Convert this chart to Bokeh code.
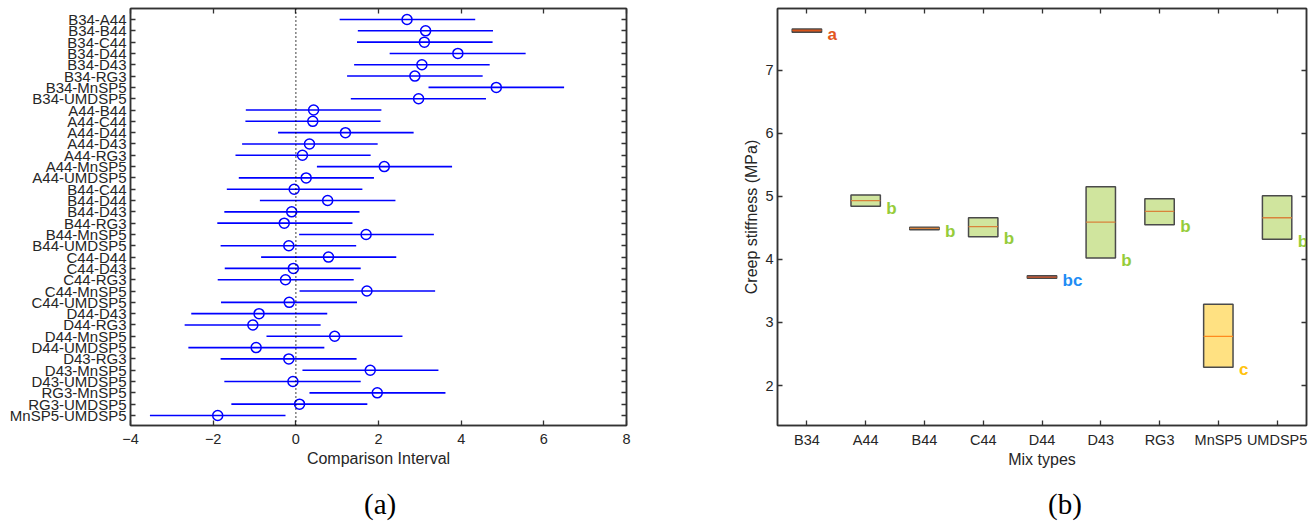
from bokeh.plotting import figure
from bokeh.models import Range1d, FixedTicker, LinearAxis, Span, Div, ColumnDataSource
from bokeh.layouts import row, column
from bokeh.core.properties import value
from bokeh.embed import file_html
from bokeh.resources import INLINE
import numpy as np

# ---------------- data: panel (a) multiple comparison ----------------
comparisons = ["B34-A44", "B34-B44", "B34-C44", "B34-D44", "B34-D43", "B34-RG3", "B34-MnSP5", "B34-UMDSP5",
               "A44-B44", "A44-C44", "A44-D44", "A44-D43", "A44-RG3", "A44-MnSP5", "A44-UMDSP5",
               "B44-C44", "B44-D44", "B44-D43", "B44-RG3", "B44-MnSP5", "B44-UMDSP5",
               "C44-D44", "C44-D43", "C44-RG3", "C44-MnSP5", "C44-UMDSP5",
               "D44-D43", "D44-RG3", "D44-MnSP5", "D44-UMDSP5",
               "D43-RG3", "D43-MnSP5", "D43-UMDSP5",
               "RG3-MnSP5", "RG3-UMDSP5", "MnSP5-UMDSP5"]
estimate = [2.69, 3.14, 3.11, 3.92, 3.05, 2.88, 4.85, 2.97,
            0.43, 0.41, 1.20, 0.33, 0.16, 2.14, 0.25,
            -0.04, 0.77, -0.10, -0.28, 1.70, -0.17,
            0.79, -0.06, -0.25, 1.72, -0.16,
            -0.89, -1.04, 0.94, -0.96,
            -0.17, 1.80, -0.07,
            1.97, 0.09, -1.89]
lower = [1.06, 1.50, 1.48, 2.27, 1.41, 1.24, 3.21, 1.33,
         -1.21, -1.22, -0.43, -1.30, -1.46, 0.51, -1.38,
         -1.67, -0.87, -1.73, -1.90, 0.08, -1.82,
         -0.84, -1.72, -1.89, 0.09, -1.81,
         -2.53, -2.69, -0.71, -2.60,
         -1.82, 0.16, -1.73,
         0.33, -1.56, -3.53]
upper = [4.34, 4.77, 4.76, 5.56, 4.69, 4.52, 6.49, 4.60,
         2.07, 2.05, 2.85, 1.98, 1.81, 3.78, 1.89,
         1.61, 2.41, 1.54, 1.37, 3.34, 1.46,
         2.43, 1.57, 1.40, 3.37, 1.48,
         0.76, 0.60, 2.58, 0.69,
         1.47, 3.45, 1.57,
         3.62, 1.73, -0.25]
x_ticks_a = [-4, -2, 0, 2, 4, 6, 8]

# ---------------- data: panel (b) creep stiffness boxes ----------------
mixes = ["B34", "A44", "B44", "C44", "D44", "D43", "RG3", "MnSP5", "UMDSP5"]
q1 = [7.60, 4.84, 4.47, 4.36, 3.70, 4.02, 4.55, 2.29, 4.32]
median = [7.63, 4.93, 4.49, 4.52, 3.72, 4.59, 4.76, 2.78, 4.66]
q3 = [7.65, 5.02, 4.51, 4.66, 3.74, 5.15, 4.96, 3.29, 5.01]
groups = ["a", "b", "b", "b", "bc", "b", "b", "c", "b"]
y_ticks_b = [2, 3, 4, 5, 6, 7]

# ---------------- styles ----------------
FONT = "Liberation Sans"
AX = "#333333"
TXT = "#262626"
box_fill = ["#D95319", "#D0E59E", "#D0E59E", "#D0E59E", "#5D6A9E", "#D0E59E", "#D0E59E", "#FFE182", "#D0E59E"]
med_color = ["#D95319", "#D9823B", "#D9823B", "#D9823B", "#D95319", "#D9823B", "#D9823B", "#FF8A1E", "#D9823B"]
letter_color = {"a": "#E2571E", "b": "#96CC3A", "bc": "#1E8CF5", "c": "#FFC20E"}


def style_axis(ax, label_size="14.5px", labels=True):
    ax.axis_line_color = AX
    ax.axis_line_width = 1.5
    ax.major_tick_line_color = AX
    ax.major_tick_line_width = 1.3
    ax.major_tick_in = 5
    ax.major_tick_out = 0
    ax.minor_tick_line_color = None
    ax.major_label_text_font = FONT
    if labels:
        ax.major_label_text_font_size = label_size
        ax.major_label_text_color = TXT
    else:
        # mirrored box axis: ticks only, no tick labels drawn
        ax.major_label_text_font_size = "1px"
        ax.major_label_text_color = None
        ax.major_label_standoff = 0
    ax.axis_label_text_font = FONT
    ax.axis_label_text_font_size = "16px"
    ax.axis_label_text_font_style = "normal"
    ax.axis_label_text_color = TXT


def panel_tag(text, width, pad_left):
    html = ('<div style="padding-left:%dpx; padding-top:10px; font-family:\'Liberation Serif\', serif; '
            'font-size:29px; line-height:29px; color:black; white-space:nowrap;">%s</div>' % (pad_left, text))
    return Div(text=html, width=width, height=43, margin=0)


FIG_H = 480

# ---------------- panel (a) ----------------
# rows are listed top to bottom: plotted at y = -row so the first comparison is on top
rows = list(range(1, len(comparisons) + 1))
ypos = [-r for r in rows]
p1 = figure(width=712, height=FIG_H, x_range=Range1d(-4, 8), y_range=Range1d(-36.885, -0.028),
            output_backend="svg", toolbar_location=None,
            min_border_left=130, min_border_right=86, min_border_top=8, min_border_bottom=55)
p1.grid.visible = False
p1.outline_line_color = AX
p1.outline_line_width = 1.5

src_a = ColumnDataSource(dict(y=ypos, est=estimate, lo=lower, hi=upper))
p1.segment(x0="lo", y0="y", x1="hi", y1="y", source=src_a, line_color="#0000FF", line_width=1.6)
zero = Span(location=0, dimension="height", line_color="black", line_dash="1 3", line_width=1.5)
p1.add_layout(zero)
p1.scatter(x="est", y="y", source=src_a, marker="circle", size=10,
           fill_color=None, line_color="#0000FF", line_width=1.5)

p1.xaxis.ticker = FixedTicker(ticks=x_ticks_a)
p1.yaxis.ticker = FixedTicker(ticks=ypos)
p1.yaxis.major_label_overrides = {y: c for y, c in zip(ypos, comparisons)}
p1.xaxis.axis_label = "Comparison Interval"
for ax in p1.xaxis:
    style_axis(ax)
    ax.major_label_standoff = 8
    ax.axis_label_standoff = 3
for ax in p1.yaxis:
    style_axis(ax, label_size="15px")
    ax.major_label_standoff = 4

right_a = LinearAxis(ticker=FixedTicker(ticks=list(ypos)))
style_axis(right_a, labels=False)
p1.add_layout(right_a, "right")
top_a = LinearAxis(ticker=FixedTicker(ticks=list(x_ticks_a)))
style_axis(top_a, labels=False)
p1.add_layout(top_a, "above")

# ---------------- panel (b) ----------------
pos = np.arange(1, len(mixes) + 1)
p2 = figure(width=600, height=FIG_H, x_range=Range1d(0.5, 9.5), y_range=Range1d(1.367, 7.976),
            output_backend="svg", toolbar_location=None,
            min_border_left=65, min_border_right=6, min_border_top=8, min_border_bottom=54)
p2.grid.visible = False
p2.outline_line_color = AX
p2.outline_line_width = 1.5

src_b = ColumnDataSource(dict(l=pos - 0.25, r=pos + 0.25, q1=q1, q3=q3, med=median,
                              fill=box_fill, mc=med_color, tx=pos + 0.35,
                              grp=groups, gc=[letter_color[g] for g in groups]))
p2.quad(left="l", right="r", bottom="q1", top="q3", source=src_b,
        fill_color="fill", line_color="#4A4A4A", line_width=1.5)
p2.segment(x0="l", y0="med", x1="r", y1="med", source=src_b, line_color="mc", line_width=1.3)
p2.text(x="tx", y="q1", text="grp", source=src_b, text_color="gc",
        text_font=value(FONT), text_font_style="bold", text_font_size="17px",
        text_align="left", text_baseline="alphabetic", y_offset=2)

p2.xaxis.ticker = FixedTicker(ticks=list(pos))
p2.xaxis.major_label_overrides = {int(k): m for k, m in zip(pos, mixes)}
p2.yaxis.ticker = FixedTicker(ticks=y_ticks_b)
p2.xaxis.axis_label = "Mix types"
p2.yaxis.axis_label = "Creep stiffness (MPa)"
for ax in p2.xaxis:
    style_axis(ax)
    ax.major_label_standoff = 6
    ax.axis_label_standoff = 0
for ax in p2.yaxis:
    style_axis(ax)
    ax.major_label_standoff = 4
    ax.axis_label_standoff = 2

top_b = LinearAxis(ticker=FixedTicker(ticks=list(pos)))
style_axis(top_b, labels=False)
p2.add_layout(top_b, "above")
right_b = LinearAxis(ticker=FixedTicker(ticks=y_ticks_b))
style_axis(right_b, labels=False)
p2.add_layout(right_b, "right")

tag_a = panel_tag("(a)", 712, 364)
tag_b = panel_tag("(b)", 600, 336)

layout = column(row(p1, p2), row(tag_a, tag_b))
open("out.html", "w").write(file_html(layout, INLINE))
